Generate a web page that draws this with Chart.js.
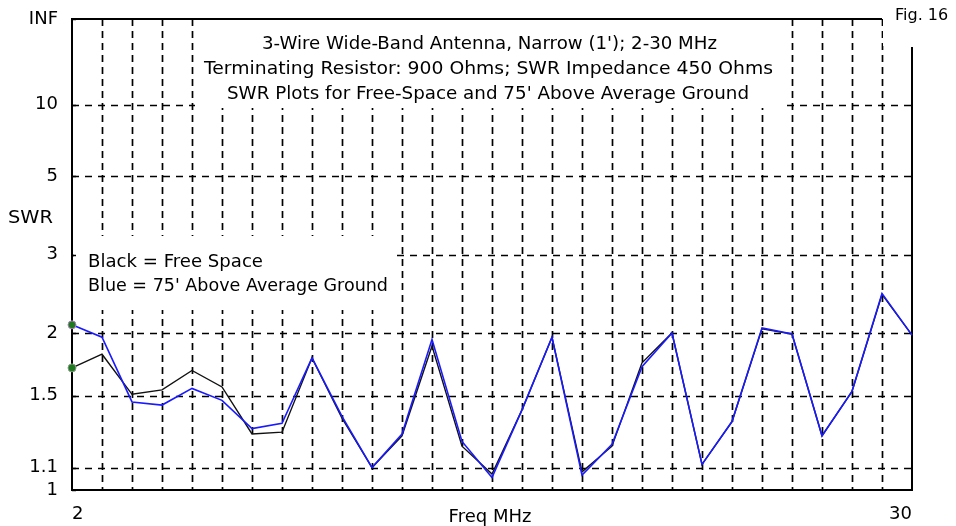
<!DOCTYPE html>
<html>
<head>
<meta charset="utf-8">
<script src="https://cdn.jsdelivr.net/npm/chart.js@4.4.1/dist/chart.umd.min.js"></script>
<style>
  html, body { margin: 0; padding: 0; background: #fff; }
  #wrap { position: relative; width: 956px; height: 526px; }
</style>
</head>
<body>
<div id="wrap"><canvas id="c" width="956" height="526"></canvas></div>
<script>
// ---- data ----
const FREQ = [2, 3, 4, 5, 6, 7, 8, 9, 10, 11, 12, 13, 14, 15, 16, 17, 18, 19, 20, 21, 22, 23, 24, 25, 26, 27, 28, 29, 30];
const SWR_GROUND = [2.08, 1.96, 1.46, 1.44, 1.55, 1.47, 1.30, 1.33, 1.78, 1.37, 1.10, 1.27, 1.94, 1.23, 1.055, 1.41, 1.96, 1.065, 1.215, 1.71, 2.00, 1.115, 1.34, 2.05, 1.99, 1.26, 1.53, 2.43, 1.98];
const SWR_FREESPACE = [1.70, 1.81, 1.51, 1.54, 1.68, 1.56, 1.27, 1.28, 1.78, 1.36, 1.10, 1.26, 1.88, 1.205, 1.07, 1.41, 1.96, 1.08, 1.205, 1.74, 2.00, 1.115, 1.34, 2.04, 1.99, 1.26, 1.53, 2.42, 1.98];
const Y_TICK_SWR = [Infinity, 10, 5, 3, 2, 1.5, 1.1, 1];
const Y_TICK_LABELS = ['INF', '10', '5', '3', '2', '1.5', '1.1', '1'];
const X_TICKS = [2, 30];
const X_GRID = [3, 4, 5, 6, 7, 8, 9, 10, 11, 12, 13, 14, 15, 16, 17, 18, 19, 20, 21, 22, 23, 24, 25, 26, 27, 28, 29];
const TITLE_LINES = [
  "3-Wire Wide-Band Antenna, Narrow (1'); 2-30 MHz",
  "Terminating Resistor: 900 Ohms; SWR Impedance 450 Ohms",
  "SWR Plots for Free-Space and 75' Above Average Ground"
];
const LEGEND_LINES = ["Black = Free Space", "Blue = 75' Above Average Ground"];

// SWR axis is linear in reflection coefficient
function rho(s) { return s === Infinity ? 1 : (s - 1) / (s + 1); }

const FONT = "DejaVu Sans";

// draw text stretched/squeezed horizontally to a given width
function fitText(ctx, text, left, baseline, width) {
  const w = ctx.measureText(text).width;
  ctx.save();
  ctx.translate(left, baseline);
  ctx.scale(width / w, 1);
  ctx.textAlign = 'left';
  ctx.fillText(text, 0, 0);
  ctx.restore();
}

const overlay = {
  id: 'overlay',
  beforeDatasetsDraw(chart) {
    const ctx = chart.ctx, a = chart.chartArea, xs = chart.scales.x, ys = chart.scales.y;
    ctx.save();
    // dashed grid
    ctx.strokeStyle = '#000';
    ctx.lineWidth = 1.7;
    ctx.setLineDash([7, 5]);
    X_GRID.forEach(v => {
      const px = Math.round(xs.getPixelForValue(v)) + 0.5;
      ctx.beginPath(); ctx.moveTo(px, a.top); ctx.lineTo(px, a.bottom); ctx.stroke();
    });
    ctx.setLineDash([7, 6]);
    Y_TICK_SWR.forEach(s => {
      if (s === Infinity || s === 1) return;
      const py = Math.round(ys.getPixelForValue(rho(s))) + 0.5;
      ctx.beginPath(); ctx.moveTo(a.left, py); ctx.lineTo(a.right, py); ctx.stroke();
    });
    ctx.setLineDash([]);
    // white text boxes
    ctx.fillStyle = '#fff';
    ctx.fillRect(195, a.top + 1, 588, 107 - a.top);
    ctx.fillRect(a.left + 2, 236, 392 - a.left - 2, 74);
    ctx.fillRect(883, 0, 73, 46);
    // top and right borders
    ctx.strokeStyle = '#000';
    ctx.lineWidth = 2;
    ctx.beginPath(); ctx.moveTo(a.left, a.top); ctx.lineTo(882, a.top); ctx.stroke();
    ctx.beginPath(); ctx.moveTo(a.right, 47); ctx.lineTo(a.right, a.bottom + 1); ctx.stroke();
    // small inward ticks on the left axis
    ctx.lineWidth = 1.5;
    Y_TICK_SWR.forEach(s => {
      const py = Math.round(ys.getPixelForValue(rho(s))) + 0.5;
      ctx.beginPath(); ctx.moveTo(a.left, py); ctx.lineTo(a.left + 4, py); ctx.stroke();
    });
    // texts
    ctx.fillStyle = '#000';
    ctx.textBaseline = 'alphabetic';
    ctx.font = '18px "' + FONT + '"';
    fitText(ctx, TITLE_LINES[0], 262, 48.5, 455);
    fitText(ctx, TITLE_LINES[1], 204, 74, 569);
    fitText(ctx, TITLE_LINES[2], 227, 98.5, 522);
    fitText(ctx, LEGEND_LINES[0], 88, 266.5, 175);
    fitText(ctx, LEGEND_LINES[1], 88, 290.5, 300);
    fitText(ctx, 'SWR', 8, 222.5, 45);
    ctx.textAlign = 'center';
    ctx.fillText('Freq MHz', 490, 521.5);
    ctx.font = '16px "' + FONT + '"';
    ctx.textAlign = 'left';
    ctx.fillText('Fig. 16', 895, 20);
    ctx.restore();
  }
};

const pointR = c => c.dataIndex === 0 ? 4 : 0;

new Chart(document.getElementById('c'), {
  type: 'line',
  data: {
    datasets: [
      {
        label: "75' Above Average Ground",
        data: FREQ.map((f, i) => ({ x: f, y: rho(SWR_GROUND[i]) })),
        borderColor: '#1a1aff',
        borderWidth: 1.6,
        pointRadius: pointR,
        pointBackgroundColor: '#1e7a1e',
        pointBorderColor: '#b080c0',
        pointBorderWidth: 1,
        tension: 0,
        clip: false
      },
      {
        label: 'Free Space',
        data: FREQ.map((f, i) => ({ x: f, y: rho(SWR_FREESPACE[i]) })),
        borderColor: '#111',
        borderWidth: 1.4,
        pointRadius: pointR,
        pointBackgroundColor: '#1e7a1e',
        pointBorderColor: '#8a9a8a',
        pointBorderWidth: 1,
        tension: 0,
        clip: false
      }
    ]
  },
  options: {
    responsive: false,
    animation: false,
    events: [],
    layout: { padding: { top: 19, right: 44, left: 0, bottom: 0 } },
    plugins: { legend: { display: false }, tooltip: { enabled: false }, title: { display: false } },
    scales: {
      x: {
        type: 'linear', min: 2, max: 30,
        afterBuildTicks: s => { s.ticks = X_TICKS.map(v => ({ value: v })); },
        afterFit: s => { s.height = 36; },
        ticks: { align: 'inner', autoSkip: false, maxRotation: 0, padding: 14, color: '#000',
                 font: { family: FONT, size: 18 }, callback: v => String(v) },
        grid: { display: false, drawTicks: false },
        border: { display: true, color: '#000', width: 2 }
      },
      y: {
        type: 'linear', min: 0, max: 1,
        afterBuildTicks: s => { s.ticks = Y_TICK_SWR.map(v => ({ value: rho(v) })); },
        afterFit: s => { s.width = 72; },
        ticks: { autoSkip: false, padding: 0, color: '#000',
                 font: { family: FONT, size: 18 },
                 callback: (v, i) => Y_TICK_LABELS[i] },
        grid: { display: true, drawOnChartArea: false, drawTicks: true, tickLength: 14,
                tickColor: 'rgba(0,0,0,0)', color: 'rgba(0,0,0,0)' },
        border: { display: true, color: '#000', width: 2 }
      }
    }
  },
  plugins: [overlay]
});
</script>
</body>
</html>
